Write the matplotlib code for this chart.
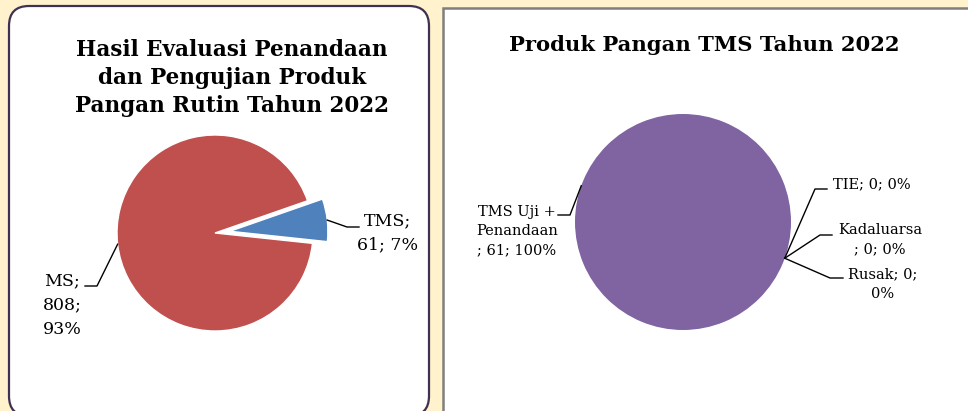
import numpy as np
import matplotlib.pyplot as plt
from matplotlib.patches import FancyBboxPatch, Rectangle

W, H = 968, 411

# routine sampling results
rutin_names = ["MS", "TMS"]
rutin_values = [808, 61]
rutin_colors = ["#C0504D", "#4F81BD"]
rutin_seps = [[";\n", ";\n"], [";\n", "; "]]

# breakdown of TMS products
tms_names = ["TMS Uji +\nPenandaan", "TIE", "Kadaluarsa", "Rusak"]
tms_values = [61, 0, 0, 0]
tms_colors = ["#8064A2", "#4F81BD", "#C0504D", "#9BBB59"]
tms_seps = [["\n; ", "; "], ["; ", "; "], ["\n; ", "; "], ["; ", ";\n"]]


def Y(y):
    # image rows -> axis units (origin bottom-left)
    return H - y


def make_label(name, val, total, seps):
    pct = 100.0 * val / total
    return f"{name}{seps[0]}{val}{seps[1]}{pct:.0f}%"


fig = plt.figure(figsize=(W / 100, H / 100), dpi=100)
fig.patch.set_facecolor("#FFF2CC")
ax = fig.add_axes([0, 0, 1, 1])

serif = ["DejaVu Serif"]

# panels
ax.add_patch(FancyBboxPatch((9 + 20, Y(416) + 20), 420 - 40, 410 - 40,
                            boxstyle="round,pad=20", fc="white", ec="#3F3151",
                            lw=1.6, zorder=0))
ax.add_patch(Rectangle((443, Y(430)), 600, 422, fc="white", ec="#7F7F7F",
                       lw=1.8, zorder=0))

# left pie (explode is in axis units here, i.e. pixels)
c1 = (215, Y(233))
r1 = 98
exp1 = [0, 15]
start1 = 19.2
w1, _ = ax.pie(rutin_values, colors=rutin_colors, startangle=start1,
               center=c1, radius=r1, explode=exp1, frame=True,
               wedgeprops=dict(edgecolor="white", linewidth=1))

ax.text(232, Y(78), "Hasil Evaluasi Penandaan\ndan Pengujian Produk\nPangan Rutin Tahun 2022",
        ha="center", va="center", fontsize=15.5, fontweight="bold",
        family=serif, linespacing=1.38)

tot1 = sum(rutin_values)
# leader elbows / text anchors per slice
lead1 = [((97, Y(286)), (85, Y(286)), (62, Y(305))),
         ((347, Y(227)), (359, Y(227)), (388, Y(233)))]
for w, ex, name, val, seps, (elb, end, tpos) in zip(w1, exp1, rutin_names, rutin_values, rutin_seps, lead1):
    mid = np.deg2rad((w.theta1 + w.theta2) / 2)
    d = np.array([np.cos(mid), np.sin(mid)])
    p0 = np.array(c1) + d * (r1 + ex)
    ax.plot([p0[0], elb[0], end[0]], [p0[1], elb[1], end[1]], color="black", lw=1)
    ax.text(tpos[0], tpos[1], make_label(name, val, tot1, seps), ha="center",
            va="center", fontsize=12.5, family=serif, linespacing=1.55)

# right pie
c2 = (683, Y(222))
r2 = 108
start2 = -19.6
w2, _ = ax.pie(tms_values, colors=tms_colors, startangle=start2,
               center=c2, radius=r2, frame=True,
               wedgeprops=dict(edgecolor="none"))

ax.text(704, Y(45), "Produk Pangan TMS Tahun 2022", ha="center", va="center",
        fontsize=15.2, fontweight="bold", family=serif)

tot2 = sum(tms_values)
lead2 = [((570, Y(215)), (558, Y(215)), (517, Y(231))),
         ((815, Y(189)), (827, Y(189)), (872, Y(184))),
         ((820, Y(235)), (832, Y(235)), (880, Y(240))),
         ((830, Y(278)), (843, Y(278)), (883, Y(284)))]
for w, name, val, seps, (elb, end, tpos) in zip(w2, tms_names, tms_values, tms_seps, lead2):
    mid = np.deg2rad((w.theta1 + w.theta2) / 2)
    d = np.array([np.cos(mid), np.sin(mid)])
    p0 = np.array(c2) + d * r2
    ax.plot([p0[0], elb[0], end[0]], [p0[1], elb[1], end[1]], color="black", lw=1)
    ax.text(tpos[0], tpos[1], make_label(name, val, tot2, seps), ha="center",
            va="center", fontsize=10.5, family=serif, linespacing=1.5)

ax.set_xlim(0, W)
ax.set_ylim(0, H)
ax.set_aspect("auto")
ax.axis("off")

fig.savefig("out.png", dpi=100, facecolor=fig.get_facecolor())
